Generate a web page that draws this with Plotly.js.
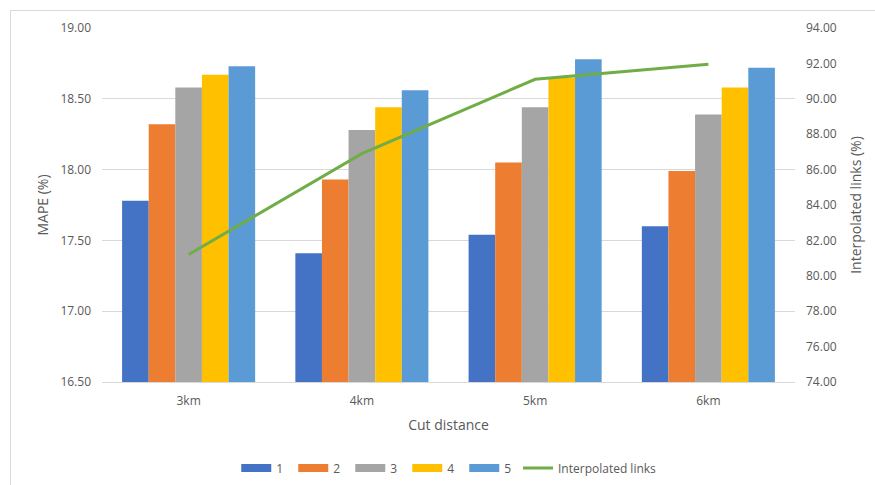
<!DOCTYPE html>
<html>
<head>
<meta charset="utf-8">
<script src="https://cdn.plot.ly/plotly-3.0.1.min.js"></script>
<style>
  html, body { margin: 0; padding: 0; background: #fff; overflow: hidden; }
  #frame { position: absolute; left: 10px; top: 10px; width: 900px; height: 500px;
           border-left: 1px solid #d9d9d9; border-top: 1px solid #d9d9d9; }
  #chart { position: absolute; left: 0; top: 0; width: 875px; height: 485px; }
</style>
</head>
<body>
<div id="frame"></div>
<div id="chart"></div>
<script>
// Cut distances on the category axis
const categories = ['3km', '4km', '5km', '6km'];

// MAPE (%) for each setting 1..5
const mape1 = [17.78, 17.41, 17.54, 17.60];
const mape2 = [18.32, 17.93, 18.05, 17.99];
const mape3 = [18.58, 18.28, 18.44, 18.39];
const mape4 = [18.67, 18.44, 18.65, 18.58];
const mape5 = [18.73, 18.56, 18.78, 18.72];

// Share of interpolated links (%)
const interpolated = [81.2, 86.9, 91.1, 91.95];

const seriesNames = ['1', '2', '3', '4', '5'];
const seriesValues = [mape1, mape2, mape3, mape4, mape5];
const colors = ['#4472C4', '#ED7D31', '#A5A5A5', '#FFC000', '#5B9BD5'];
const lineColor = '#70AD47';

const textColor = '#595959';
const fontFamily = '"Open Sans", "DejaVu Sans", sans-serif';

const traces = [];
seriesValues.forEach((vals, i) => {
  traces.push({
    type: 'bar', x: categories, y: vals, name: seriesNames[i],
    marker: { color: colors[i] }, showlegend: false, hoverinfo: 'y'
  });
});
traces.push({
  type: 'scatter', mode: 'lines', x: categories, y: interpolated,
  name: 'Interpolated links', yaxis: 'y2',
  line: { color: lineColor, width: 3 }, showlegend: false
});

// Legend entries with wide Excel-style swatches
seriesNames.forEach((n, i) => {
  traces.push({
    type: 'scatter', mode: 'lines', x: [null], y: [null], name: n,
    line: { color: colors[i], width: 8 }, hoverinfo: 'skip'
  });
});
traces.push({
  type: 'scatter', mode: 'lines', x: [null], y: [null], name: 'Interpolated links',
  line: { color: lineColor, width: 3 }, yaxis: 'y2', hoverinfo: 'skip',
  legend: 'legend2'
});

const legendFont = { size: 12, color: textColor };

const layout = {
  width: 875, height: 485,
  margin: { l: 102, r: 80, t: 28, b: 103 },
  paper_bgcolor: 'rgba(0,0,0,0)', plot_bgcolor: 'rgba(0,0,0,0)',
  font: { family: fontFamily, color: textColor, size: 12 },
  barmode: 'group', bargap: 0.232, bargroupgap: 0,
  xaxis: {
    type: 'category', range: [-0.5, 3.5], showgrid: false, zeroline: false,
    showline: true, linecolor: '#d9d9d9', linewidth: 1,
    ticks: '', ticklabelstandoff: 8,
    tickfont: { size: 12, color: textColor },
    title: { text: 'Cut distance', font: { size: 14, color: textColor }, standoff: 11 }
  },
  yaxis: {
    range: [16.5, 19.0], dtick: 0.5, tickformat: '.2f',
    showgrid: true, gridcolor: '#d9d9d9', gridwidth: 1, zeroline: false,
    showline: false, ticks: '', ticklabelstandoff: 10,
    tickfont: { size: 12, color: textColor },
    title: { text: 'MAPE (%)', font: { size: 14, color: textColor }, standoff: 8 }
  },
  yaxis2: {
    overlaying: 'y', side: 'right',
    range: [74, 94], dtick: 2, tickformat: '.2f',
    showgrid: false, zeroline: false, showline: false, ticks: '', ticklabelstandoff: 10,
    tickfont: { size: 12, color: textColor },
    title: { text: 'Interpolated links (%)', font: { size: 14, color: textColor }, standoff: 15 }
  },
  legend: {
    orientation: 'h', xref: 'container', yref: 'container',
    x: 0.27, xanchor: 'left', y: 17 / 485, yanchor: 'middle',
    entrywidth: 12, itemwidth: 30,
    font: legendFont, bgcolor: 'rgba(0,0,0,0)'
  },
  legend2: {
    orientation: 'h', xref: 'container', yref: 'container',
    x: 518 / 875, xanchor: 'left', y: 17 / 485, yanchor: 'middle',
    itemwidth: 30,
    font: legendFont, bgcolor: 'rgba(0,0,0,0)'
  }
};

Plotly.newPlot('chart', traces, layout, { displayModeBar: false, staticPlot: true });
</script>
</body>
</html>
